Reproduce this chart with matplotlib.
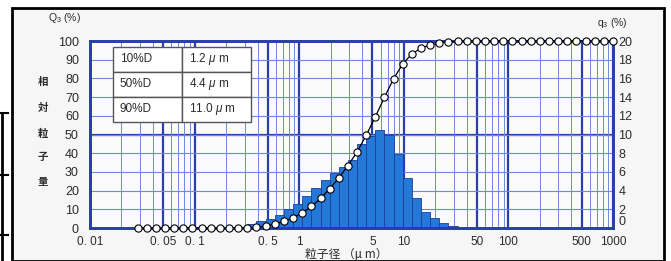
import matplotlib
matplotlib.use("Agg")
import matplotlib.pyplot as plt
from matplotlib.ticker import LogLocator, NullFormatter
from matplotlib.patches import Rectangle
from matplotlib.lines import Line2D

plt.rcParams['font.family'] = ['Liberation Sans', 'Noto Sans CJK JP', 'DejaVu Sans']
plt.rcParams['mathtext.fontset'] = 'custom'
plt.rcParams['mathtext.rm'] = 'Liberation Sans'
plt.rcParams['mathtext.it'] = 'Liberation Sans:italic'

W, H = 671, 261

# particle size channels (um) - upper edge of each bin
size_um = [0.0285, 0.0349, 0.0426, 0.0521, 0.0637, 0.0779, 0.0953, 0.117, 0.143, 0.174,
           0.213, 0.261, 0.319, 0.390, 0.477, 0.583, 0.713, 0.873, 1.07, 1.31,
           1.60, 1.95, 2.39, 2.92, 3.57, 4.37, 5.34, 6.53, 7.98, 9.77,
           11.9, 14.6, 17.9, 21.8, 26.7, 32.7, 39.9, 48.9, 59.7, 73.1,
           89.3, 109, 134, 163, 200, 244, 299, 366, 447, 547,
           668, 818, 1000]

# frequency q3 (%) of the bin ending at each channel
q3 = [0, 0, 0, 0, 0, 0, 0, 0, 0, 0,
      0, 0, 0, 0.4, 0.7, 1.0, 1.4, 2.0, 2.6, 3.4,
      4.3, 5.1, 5.9, 6.5, 7.3, 9.0, 9.8, 10.5, 9.9, 7.9,
      5.3, 3.2, 1.7, 1.1, 0.5, 0.2, 0, 0, 0, 0,
      0, 0, 0, 0, 0, 0, 0, 0, 0, 0,
      0, 0, 0]

# cumulative Q3 (%)
Q3 = [0, 0, 0, 0, 0, 0, 0, 0, 0, 0,
      0, 0, 0, 0.4, 1.1, 2.1, 3.5, 5.5, 8.1, 11.5,
      15.8, 20.9, 26.8, 33.3, 40.6, 49.6, 59.4, 69.9, 79.8, 87.7,
      93.0, 96.2, 97.9, 99.0, 99.5, 99.8, 100, 100, 100, 100,
      100, 100, 100, 100, 100, 100, 100, 100, 100, 100,
      100, 100, 100]

x_ticks = [0.01, 0.05, 0.1, 0.5, 1, 5, 10, 50, 100, 500, 1000]
x_labels = ['0. 01', '0. 05', '0. 1', '0. 5', '1', '5', '10', '50', '100', '500', '1000']

table_rows = [['10%D', r'1.2 $\mathit{\mu}$ m'],
              ['50%D', r'4.4 $\mathit{\mu}$ m'],
              ['90%D', r'11.0 $\mathit{\mu}$ m']]

thin = '#7088dc'
thick = '#2a3eae'
txt = '#2b2b2b'

fig = plt.figure(figsize=(W / 100, H / 100), dpi=100, facecolor='white')

def fx(x):
    return x / W

def fy(y):
    return 1 - y / H

# scanned page frame
fig.patches.append(Rectangle((fx(12), 0), fx(664) - fx(12), fy(8), transform=fig.transFigure,
                             facecolor='#f6f6f6', edgecolor='black', lw=2, zorder=-5))
fig.add_artist(Line2D([fx(2), fx(2)], [fy(113), 0], color='black', lw=2))
for yy in [113, 175, 235]:
    fig.add_artist(Line2D([0, fx(8)], [fy(yy), fy(yy)], color='black', lw=1.5))

left, right, top, bottom = 90, 613, 41, 228
ax2 = fig.add_axes([fx(left), fy(bottom), fx(right) - fx(left), fy(top) - fy(bottom)])
ax = ax2.twinx()
ax2.yaxis.tick_right()
ax.yaxis.tick_left()
ax2.set_zorder(1)
ax.set_zorder(2)
ax.patch.set_visible(False)
ax2.set_facecolor('#fbfbfb')

ax2.set_xscale('log')
ax2.set_xlim(0.01, 1000)
ax2.set_ylim(0, 20)
ax.set_ylim(0, 100)

ax2.set_xticks(x_ticks, x_labels)
ax2.xaxis.set_minor_locator(LogLocator(base=10, subs=(2, 3, 4, 6, 7, 8, 9), numticks=100))
ax2.xaxis.set_minor_formatter(NullFormatter())
ax2.set_yticks(range(0, 21, 2))
ax.set_yticks(range(0, 101, 10))

ax2.grid(which='minor', axis='x', color=thin, lw=0.7, zorder=0)
ax2.grid(which='major', axis='x', color=thick, lw=1.6, zorder=0)
ax2.grid(which='major', axis='y', color=thin, lw=0.8, zorder=0)
ax2.axhline(10, color=thick, lw=1.6, zorder=0.5)
ax2.set_axisbelow(True)

# histogram: bar spans previous channel to this channel
lefts = [size_um[i - 1] for i in range(1, len(size_um)) if q3[i] > 0]
widths = [size_um[i] - size_um[i - 1] for i in range(1, len(size_um)) if q3[i] > 0]
heights = [q3[i] for i in range(1, len(size_um)) if q3[i] > 0]
ax2.bar(lefts, heights, width=widths, align='edge', color='#2478d8',
        edgecolor='#1c3f96', lw=0.6, zorder=2)

ax.plot(size_um, Q3, color='black', lw=0.9, marker='o', ms=5.2, mfc='white',
        mec='black', mew=0.8, clip_on=False, zorder=5)

for a in (ax, ax2):
    for s in a.spines.values():
        s.set_color(thick)
        s.set_linewidth(2)
    a.tick_params(which='both', length=0, labelsize=9, labelcolor=txt)
ax.tick_params(axis='y', pad=8)
ax2.tick_params(axis='y', pad=4)
ax2.tick_params(axis='x', pad=6, labelsize=8.5)
# nudge the right-hand "0" up a little so it clears "1000"
ax2.get_yticklabels()[0].set_va('bottom')

tb = ax.table(cellText=table_rows, cellLoc='left', bbox=[0.044, 0.567, 0.264, 0.401])
tb.auto_set_font_size(False)
tb.set_fontsize(8.5)
tb.set_zorder(6)
for cell in tb.get_celld().values():
    cell.set_edgecolor('#555555')
    cell.set_linewidth(1)
    cell.set_facecolor('white')
    cell.get_text().set_color(txt)
    cell.PAD = 0.1

fig.text(fx(48), fy(18), r'Q$_{3}$ (%)', fontsize=7.5, color=txt, va='center', ha='left')
fig.text(fx(597), fy(23), r'q$_{3}$ (%)', fontsize=7.5, color=txt, va='center', ha='left')

for ch, yy in zip(['相', '対', '粒', '子', '量'], [82, 108, 134, 157, 182]):
    fig.text(fx(43), fy(yy), ch, fontsize=7.5, color=txt, ha='center', va='center',
             family=['Noto Sans CJK JP', 'DejaVu Sans'], weight='bold')

fig.text(fx(346), fy(254), '粒子径 （μ m）', fontsize=8.5, color=txt, ha='center', va='center',
         family=['Noto Sans CJK JP', 'DejaVu Sans'])

fig.savefig('out.png', dpi=100, facecolor=fig.get_facecolor())
